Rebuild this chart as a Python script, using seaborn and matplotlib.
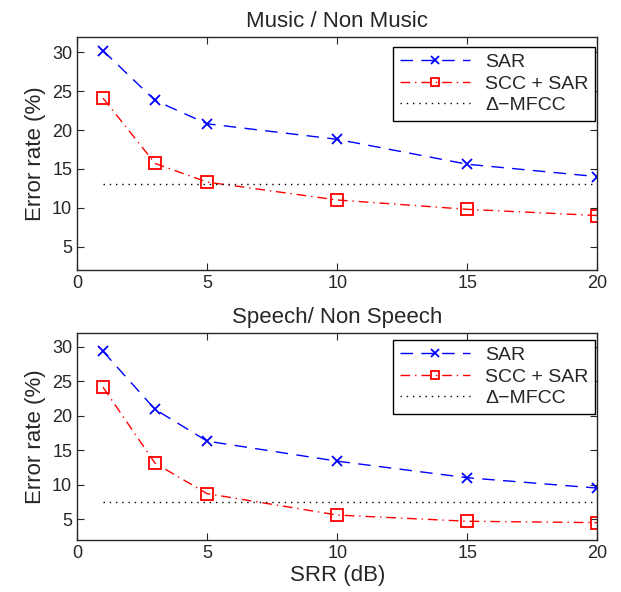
import numpy as np
import pandas as pd
import matplotlib
matplotlib.use('Agg')
import matplotlib.pyplot as plt
import seaborn as sns

srr = [1, 3, 5, 10, 15, 20]

music_sar = [30.2, 23.8, 20.8, 18.8, 15.6, 14.0]
music_scc_sar = [24.1, 15.7, 13.3, 11.0, 9.8, 9.0]
music_mfcc = 13.0

speech_sar = [29.3, 20.9, 16.3, 13.4, 11.0, 9.5]
speech_scc_sar = [24.1, 13.1, 8.7, 5.6, 4.7, 4.5]
speech_mfcc = 7.5

titles = ['Music / Non Music', 'Speech/ Non Speech']

sns.set_style('ticks')
plt.rcParams['font.family'] = ['Liberation Sans', 'DejaVu Sans']
plt.rcParams['mathtext.fontset'] = 'dejavusans'


def draw_panel(ax, sar, scc, mfcc, title, leg_y):
    df = pd.DataFrame({'SRR': srr, 'SAR': sar, 'SCC + SAR': scc})
    sns.lineplot(data=df, x='SRR', y='SAR', ax=ax, color='blue', lw=1,
                 marker='x', markersize=7, mew=1.3, mec='blue', label='SAR')
    ax.lines[-1].set_dashes([9, 6])
    sns.lineplot(data=df, x='SRR', y='SCC + SAR', ax=ax, color='red', lw=1,
                 marker='s', markersize=8, mfc='none', mec='red', mew=1.3,
                 label='SCC + SAR')
    ax.lines[-1].set_dashes([7, 3.5, 1, 3.5])
    ax.plot([srr[0], srr[-1]], [mfcc, mfcc], color='black', lw=1,
            ls=(0, (1, 3.5)), label='\u0394\u2212MFCC')
    ax.set_xlim(0, 20)
    ax.set_ylim(2, 32)
    ax.set_xticks([0, 5, 10, 15, 20])
    ax.set_yticks([5, 10, 15, 20, 25, 30])
    ax.tick_params(direction='in', top=True, right=True, labelsize=13,
                   length=5, width=0.8)
    for s in ax.spines.values():
        s.set_visible(True)
        s.set_linewidth(1.0)
    ax.set_title(title, fontsize=16, pad=7)
    ax.set_ylabel('Error rate (%)', fontsize=16)
    ax.set_xlabel('')
    leg = ax.legend(loc='upper right', bbox_to_anchor=(0.996, leg_y),
                    fontsize=14, fancybox=False, markerscale=0.8,
                    edgecolor='black', framealpha=1, handlelength=3.6,
                    borderaxespad=0, labelspacing=0.2, borderpad=0.35)
    leg.get_frame().set_linewidth(1.0)


fig = plt.figure(figsize=(6.21, 5.92), dpi=100)
ax1 = fig.add_axes([0.124, 0.544, 0.838, 0.394])
ax2 = fig.add_axes([0.124, 0.088, 0.838, 0.350])

draw_panel(ax1, music_sar, music_scc_sar, music_mfcc, titles[0], 0.957)
draw_panel(ax2, speech_sar, speech_scc_sar, speech_mfcc, titles[1], 0.966)
ax2.set_xlabel('SRR (dB)', fontsize=16, labelpad=2)

fig.savefig('out.png', dpi=100)
